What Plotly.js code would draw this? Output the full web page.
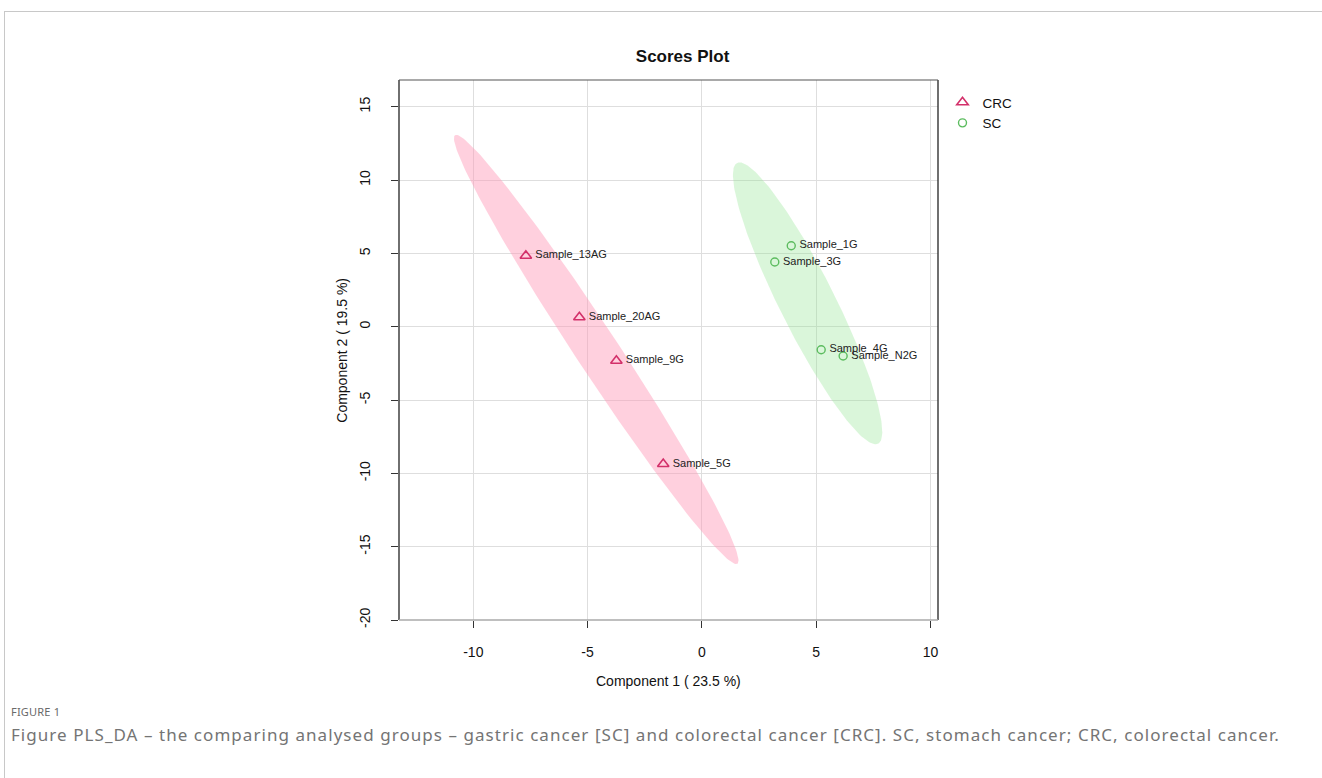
<!DOCTYPE html>
<html>
<head>
<meta charset="utf-8">
<script src="https://cdn.plot.ly/plotly-3.0.1.min.js"></script>
<style>
  html, body { margin: 0; padding: 0; background: #fff; width: 1322px; height: 778px; overflow: hidden; }
  #frame { position: absolute; left: 4px; top: 11px; width: 1340px; height: 800px; border: 1px solid #c8c8c8; box-sizing: border-box; }
  #chart { position: absolute; left: 0; top: 0; width: 1322px; height: 778px; }
  #figlabel { position: absolute; left: 11px; top: 704px; font-family: "Noto Sans", sans-serif; font-size: 11px; color: #6a6a6a; letter-spacing: 0.2px; }
  #caption { position: absolute; left: 11px; top: 724px; font-family: "Noto Sans", sans-serif; font-size: 17px; line-height: 22px; color: #747474; white-space: nowrap; letter-spacing: 1.05px; }
</style>
</head>
<body>
<div id="frame"></div>
<div id="chart"></div>
<div id="figlabel">FIGURE 1</div>
<div id="caption">Figure PLS_DA – the comparing analysed groups – gastric cancer [SC] and colorectal cancer [CRC]. SC, stomach cancer; CRC, colorectal cancer.</div>
<script>
// ---- data ----
const crcLabels = ["Sample_13AG", "Sample_20AG", "Sample_9G", "Sample_5G"];
const crcX = [-7.70, -5.36, -3.74, -1.69];
const crcY = [4.84, 0.64, -2.32, -9.36];

const scLabels = ["Sample_1G", "Sample_3G", "Sample_4G", "Sample_N2G"];
const scX = [3.91, 3.19, 5.22, 6.18];
const scY = [5.52, 4.41, -1.57, -2.00];

const xTicks = [-10, -5, 0, 5, 10];
const yTicks = [15, 10, 5, 0, -5, -10, -15, -20];

// 95% confidence ellipse from the group's covariance
function confEllipse(xs, ys, n) {
  const m = xs.length;
  const mx = xs.reduce((a, b) => a + b, 0) / m;
  const my = ys.reduce((a, b) => a + b, 0) / m;
  let sxx = 0, syy = 0, sxy = 0;
  for (let i = 0; i < m; i++) {
    sxx += (xs[i] - mx) ** 2; syy += (ys[i] - my) ** 2; sxy += (xs[i] - mx) * (ys[i] - my);
  }
  sxx /= (m - 1); syy /= (m - 1); sxy /= (m - 1);
  const tr = sxx + syy, det = sxx * syy - sxy * sxy;
  const disc = Math.sqrt(Math.max(tr * tr / 4 - det, 0));
  const l1 = tr / 2 + disc, l2 = Math.max(tr / 2 - disc, 0);
  let v1x = sxy, v1y = l1 - sxx;
  if (Math.abs(v1x) < 1e-12 && Math.abs(v1y) < 1e-12) { v1x = 1; v1y = 0; }
  const nv = Math.hypot(v1x, v1y); v1x /= nv; v1y /= nv;
  const v2x = -v1y, v2y = v1x;
  const t = Math.sqrt(-2 * Math.log(0.05));
  const ex = [], ey = [];
  for (let k = 0; k <= n; k++) {
    const a = 2 * Math.PI * k / n;
    const c = Math.cos(a) * Math.sqrt(l1) * t, s = Math.sin(a) * Math.sqrt(l2) * t;
    ex.push(mx + c * v1x + s * v2x);
    ey.push(my + c * v1y + s * v2y);
  }
  return [ex, ey];
}

const crcCol = "#d3306a";
const scCol = "#5cbc5f";

const crcE = confEllipse(crcX, crcY, 200);
const scE = confEllipse(scX, scY, 200);

const lblFont = { family: "Liberation Sans, Arial, sans-serif", size: 11, color: "#222" };

const traces = [
  { x: crcE[0], y: crcE[1], type: "scatter", mode: "lines", fill: "toself",
    fillcolor: "rgba(255,150,182,0.45)", line: { width: 0, color: "rgba(0,0,0,0)" },
    hoverinfo: "skip", showlegend: false },
  { x: scE[0], y: scE[1], type: "scatter", mode: "lines", fill: "toself",
    fillcolor: "rgba(150,230,150,0.35)", line: { width: 0, color: "rgba(0,0,0,0)" },
    hoverinfo: "skip", showlegend: false },
  { x: crcX, y: crcY, text: crcLabels.map(s => "\u2009" + s), name: "CRC", type: "scatter", mode: "markers+text",
    textposition: "middle right", textfont: lblFont,
    marker: { symbol: "triangle-up-open", size: 10, color: crcCol, line: { width: 1.6, color: crcCol } } },
  { x: scX, y: scY, text: scLabels.map(s => "\u2009" + s), name: "SC", type: "scatter", mode: "markers+text",
    textposition: "middle right", textfont: lblFont,
    marker: { symbol: "circle-open", size: 8, color: scCol, line: { width: 1.4, color: scCol } } }
];

const L = 399.3, R = 938.5, T = 80, B = 620;
const W = 1322, H = 778;
const pw = R - L, ph = B - T;

const layout = {
  width: W, height: H,
  margin: { l: L, r: W - R, t: T, b: H - B, pad: 0 },
  paper_bgcolor: "rgba(0,0,0,0)", plot_bgcolor: "#fff",
  font: { family: "Liberation Sans, Arial, sans-serif", size: 14, color: "#111" },
  title: { text: "<b>Scores Plot</b>", x: (683 - L) / pw, xref: "paper", xanchor: "center",
           y: 1 - 56 / H, yref: "container", yanchor: "middle",
           font: { family: "Liberation Sans, Arial, sans-serif", size: 17, color: "#111" } },
  xaxis: { range: [-13.25, 10.33], tickvals: xTicks, ticktext: xTicks.map(String),
           showgrid: true, gridcolor: "#dedede", gridwidth: 1, zeroline: false, showline: false,
           ticks: "outside", ticklen: 7, tickcolor: "#333", tickwidth: 1, ticklabelstandoff: 12,
           tickfont: { size: 14, color: "#111" } },
  yaxis: { range: [-20.0, 16.82], tickvals: yTicks, ticktext: yTicks.map(String), tickangle: -90,
           showgrid: true, gridcolor: "#dedede", gridwidth: 1, zeroline: false, showline: false,
           ticks: "outside", ticklen: 7, tickcolor: "#333", tickwidth: 1, ticklabelstandoff: 15,
           tickfont: { size: 14, color: "#111" } },
  showlegend: true,
  legend: { x: (943 - L) / pw, xanchor: "left", y: 1 - (87 - T) / ph, yanchor: "top",
            font: { size: 13.5, color: "#111" }, bgcolor: "rgba(0,0,0,0)", tracegroupgap: 0, itemwidth: 30 },
  shapes: [
    { type: "line", xref: "paper", yref: "paper", x0: 0, x1: 0, y0: 0, y1: 1, line: { color: "#222", width: 1.3 } },
    { type: "line", xref: "paper", yref: "paper", x0: 1, x1: 1, y0: 0, y1: 1, line: { color: "#222", width: 1.3 } },
    { type: "line", xref: "paper", yref: "paper", x0: 0, x1: 1, y0: 1, y1: 1, line: { color: "#555", width: 1.2 } },
    { type: "line", xref: "paper", yref: "paper", x0: 0, x1: 1, y0: 0, y1: 0, line: { color: "#aaa", width: 1.6 } }
  ],
  annotations: [
    { text: "Component 1 ( 23.5 %)", xref: "paper", yref: "paper", x: (669 - L) / pw, y: -(681 - B) / ph,
      xanchor: "center", yanchor: "middle", showarrow: false, font: { size: 14, color: "#111" } },
    { text: "Component 2 ( 19.5 %)", xref: "paper", yref: "paper", x: -(L - 342) / pw, y: (B - 350) / ph,
      xanchor: "center", yanchor: "middle", textangle: -90, showarrow: false, font: { size: 14, color: "#111" } }
  ]
};

Plotly.newPlot("chart", traces, layout, { staticPlot: true, displayModeBar: false });
</script>
</body>
</html>
